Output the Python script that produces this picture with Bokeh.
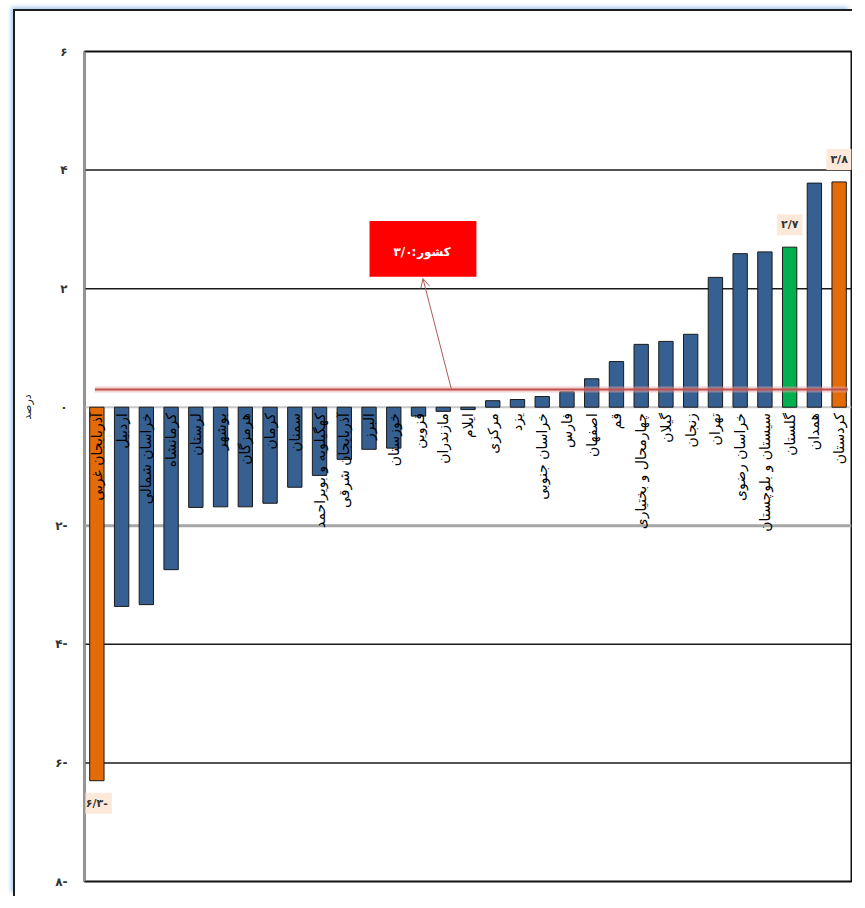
import math
from bokeh.plotting import figure
from bokeh.models import (FactorRange, Range1d, FixedTicker, Span, Arrow, OpenHead,
                          ColumnDataSource, BoxAnnotation, Label)
from bokeh.core.properties import value
from bokeh.embed import file_html
from bokeh.resources import INLINE

# ---------------- data ----------------
provinces = [
    "آذربایجان غربی", "اردبیل", "خراسان شمالی", "کرمانشاه", "لرستان", "بوشهر",
    "هرمزگان", "کرمان", "سمنان", "کهگیلویه و بویراحمد", "آذربایجان شرقی", "البرز",
    "خوزستان", "قزوین", "مازندران", "ایلام", "مرکزی", "یزد", "خراسان جنوبی", "فارس",
    "اصفهان", "قم", "چهارمحال و بختیاری", "گیلان", "زنجان", "تهران", "خراسان رضوی",
    "سیستان و بلوچستان", "گلستان", "همدان", "کردستان",
]
growth = [
    -6.3, -3.36, -3.33, -2.74, -1.69, -1.68, -1.68, -1.62, -1.35, -1.15, -0.88, -0.71,
    -0.69, -0.15, -0.07, -0.04, 0.11, 0.13, 0.18, 0.26, 0.48, 0.77, 1.06, 1.11, 1.23,
    2.19, 2.59, 2.62, 2.70, 3.78, 3.80,
]
highlight_names = ["آذربایجان غربی", "گلستان", "کردستان"]
highlight_texts = ["۶/۳-", "۲/۷", "۳/۸"]
y_ticks = [-8, -6, -4, -2, 0, 2, 4, 6]
y_tick_labels = ["۸-", "۶-", "۴-", "۲-", "۰", "۲", "۴", "۶"]
national_avg = 0.3
national_value_text = "۳/۰"
national_sep_text = ":"
national_name_text = "کشور"
axis_title = "درصد"

# ---------------- styles ----------------
BLUE = "#376092"
ORANGE = "#e36c09"
GREEN = "#00b050"
FONT = "DejaVu Sans"

colors = []
for name, v in zip(provinces, growth):
    if name == "گلستان":
        colors.append(GREEN)
    elif v == max(growth) or v == min(growth):
        colors.append(ORANGE)
    else:
        colors.append(BLUE)

src = ColumnDataSource(dict(province=provinces, growth=growth, color=colors))

p = figure(width=839, height=887,
           x_range=FactorRange(*provinces, range_padding=0),
           y_range=Range1d(-8, 6),
           output_backend="svg", toolbar_location=None,
           min_border_left=69, min_border_right=3,
           min_border_top=40, min_border_bottom=17)
p.margin = (9, 0, 0, 13)
p.styles = {"border-left": "2px solid #1e1e1e", "border-top": "2px solid #1e1e1e",
            "box-shadow": "-3px -3px 4px -1px #a9c9ef"}

p.xaxis.visible = False
p.xgrid.visible = False
p.ygrid.visible = False
p.outline_line_color = "#111111"
p.outline_line_width = 2
p.background_fill_color = "white"
p.border_fill_color = "white"

ya = p.yaxis[0]
ya.ticker = FixedTicker(ticks=y_ticks)
ya.major_label_overrides = {t: lab for t, lab in zip(y_ticks, y_tick_labels)}
ya.major_tick_line_color = None
ya.minor_tick_line_color = None
ya.axis_line_color = "#9a9a9a"
ya.axis_line_width = 2
ya.major_label_text_font = FONT
ya.major_label_text_font_size = "12px"
ya.major_label_text_font_style = "bold"
ya.major_label_text_color = "#333333"
ya.major_label_standoff = 11
# padding with no-break spaces shifts the rotated title up beside the zero line
ya.axis_label = "\u00a0" * 34 + axis_title
ya.axis_label_text_font = FONT
ya.axis_label_text_font_style = "normal"
ya.axis_label_text_font_size = "11px"
ya.axis_label_text_color = "#222222"
ya.axis_label_standoff = 18

# gridlines
for t in y_ticks:
    if t in (6, -8):
        continue
    if t == -2:
        sp = Span(location=t, dimension="width", line_color="#a6a6a6", line_width=3, level="underlay")
    elif t == 0:
        sp = Span(location=t, dimension="width", line_color="#c8c8c8", line_width=2, level="underlay")
    else:
        sp = Span(location=t, dimension="width", line_color="#1a1a1a", line_width=1.5, level="underlay")
    p.add_layout(sp)

# bars
p.vbar(x="province", top="growth", bottom=0, width=0.58, source=src,
       fill_color="color", line_color="#1a1a1a", line_width=1)

# province labels (vertical)
p.text(x=provinces, y=[-0.1] * len(provinces), text=provinces, angle=math.pi / 2,
       text_align="right", text_baseline="middle", text_font=value(FONT),
       text_font_size="14px", text_color="black")

# highlighted value labels
hv = [growth[provinces.index(n)] for n in highlight_names]
up = [i for i, v in enumerate(hv) if v >= 0]
dn = [i for i, v in enumerate(hv) if v < 0]
p.text(x=[highlight_names[i] for i in up], y=[hv[i] for i in up], text=[highlight_texts[i] for i in up],
       text_align="center", text_baseline="bottom", y_offset=-12,
       text_font=value(FONT), text_font_size="11px", text_font_style="bold", text_color="#333333",
       background_fill_color="#fde9d9", padding=4)
p.text(x=[highlight_names[i] for i in dn], y=[hv[i] for i in dn], text=[highlight_texts[i] for i in dn],
       text_align="center", text_baseline="top", y_offset=12,
       text_font=value(FONT), text_font_size="11px", text_font_style="bold", text_color="#333333",
       background_fill_color="#fde9d9", padding=4)

# national average line
n = len(provinces)
p.segment(x0=[0.42], y0=[national_avg], x1=[n - 0.15], y1=[national_avg],
          line_color="#e8a6a6", line_width=6, line_alpha=0.5)
p.segment(x0=[0.42], y0=[national_avg], x1=[n - 0.15], y1=[national_avg],
          line_color="#c0504d", line_width=2)

# callout box
box_left, box_right, box_bottom, box_top = 11.52, 15.84, 2.2, 3.14
box_cx = (box_left + box_right) / 2
box_cy = (box_bottom + box_top) / 2 - 0.05
p.add_layout(BoxAnnotation(left=box_left, right=box_right, bottom=box_bottom, top=box_top,
                           fill_color="#ff0000", fill_alpha=1, line_color=None))
for txt, dx in ((national_value_text, -20), (national_sep_text, -9), (national_name_text, 11)):
    p.add_layout(Label(x=box_cx, y=box_cy, x_offset=dx, text=txt,
                       text_align="center", text_baseline="middle",
                       text_color="white", text_font=FONT, text_font_style="bold",
                       text_font_size="12px"))
p.add_layout(Arrow(x_start=14.83, y_start=national_avg,
                   x_end=box_cx, y_end=box_bottom - 0.03,
                   line_color="#b05a5a", line_width=1,
                   end=OpenHead(size=9, line_color="#b05a5a", line_width=1)))

open("out.html", "w").write(file_html(p, INLINE))
